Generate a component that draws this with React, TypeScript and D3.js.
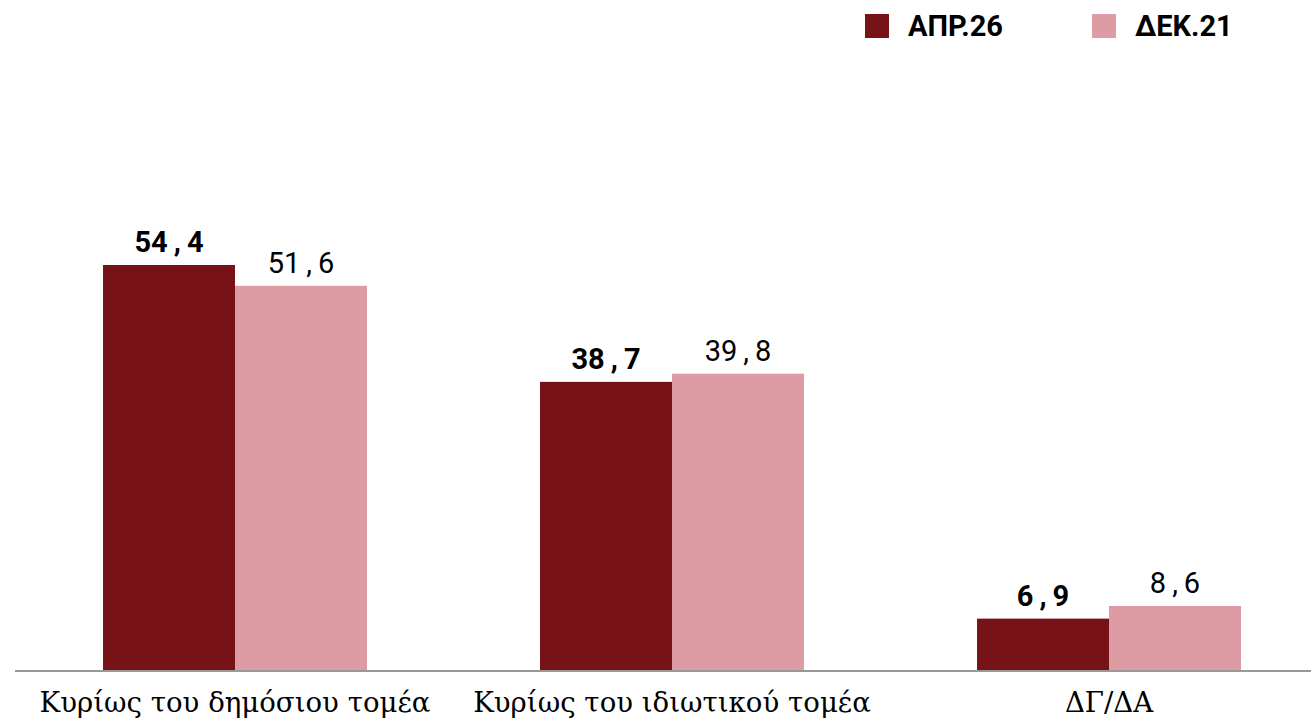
import React from "react";
import * as d3 from "d3";

const categories = ["Κυρίως του δημόσιου τομέα", "Κυρίως του ιδιωτικού τομέα", "ΔΓ/ΔΑ"];
const seriesNames = ["ΑΠΡ.26", "ΔΕΚ.21"];
const apr26 = [54.4, 38.7, 6.9];
const dec21 = [51.6, 39.8, 8.6];
const colors = ["#771217", "#DD9BA4"];

const W = 1311;
const H = 718;

export default function App() {
  const x0 = d3.scaleBand<string>().domain(categories).range([16.5, 1327.5]).paddingInner(0.396).paddingOuter(0.198);
  const x1 = d3.scaleBand<string>().domain(seriesNames).range([0, x0.bandwidth()]).padding(0);
  const y = d3.scaleLinear().domain([0, 60]).range([670, 223.3]);
  const series = [apr26, dec21];
  return (
    <svg width={W} height={H} style={{ position: "absolute", left: 0, top: 0, background: "#fff" }}>
      {categories.map((c, i) => (
        <g key={c}>
          {seriesNames.map((s, j) => {
            const v = series[j][i];
            const [ip, dp] = v.toFixed(1).split(".");
            const bx = (x0(c) as number) + (x1(s) as number);
            return (
              <g key={s}>
                <rect x={bx} y={y(v)} width={x1.bandwidth()} height={y(0) - y(v)} fill={colors[j]} />
                <text
                  x={bx + x1.bandwidth() / 2}
                  y={y(v) - 13}
                  textAnchor="middle"
                  fontFamily="Roboto"
                  fontSize={29}
                  fontWeight={j === 0 ? 700 : 400}
                  fill="#000"
                >
                  <tspan>{ip}</tspan>
                  <tspan dx={6}>,</tspan>
                  <tspan dx={6}>{dp}</tspan>
                </text>
              </g>
            );
          })}
          <text
            x={(x0(c) as number) + x0.bandwidth() / 2}
            y={712}
            textAnchor="middle"
            fontFamily="DejaVu Serif"
            fontSize={27.6}
            fill="#000"
          >
            {c}
          </text>
        </g>
      ))}
      <line x1={15} x2={1311} y1={y(0) + 1} y2={y(0) + 1} stroke="#999" strokeWidth={2} />
      {seriesNames.map((s, j) => {
        const lx = j === 0 ? 865 : 1092;
        return (
          <g key={s}>
            <rect x={lx} y={14} width={24} height={24} fill={colors[j]} />
            <text x={lx + 43} y={36} fontFamily="Roboto" fontWeight={700} fontSize={29} fill="#000">
              {s}
            </text>
          </g>
        );
      })}
    </svg>
  );
}
